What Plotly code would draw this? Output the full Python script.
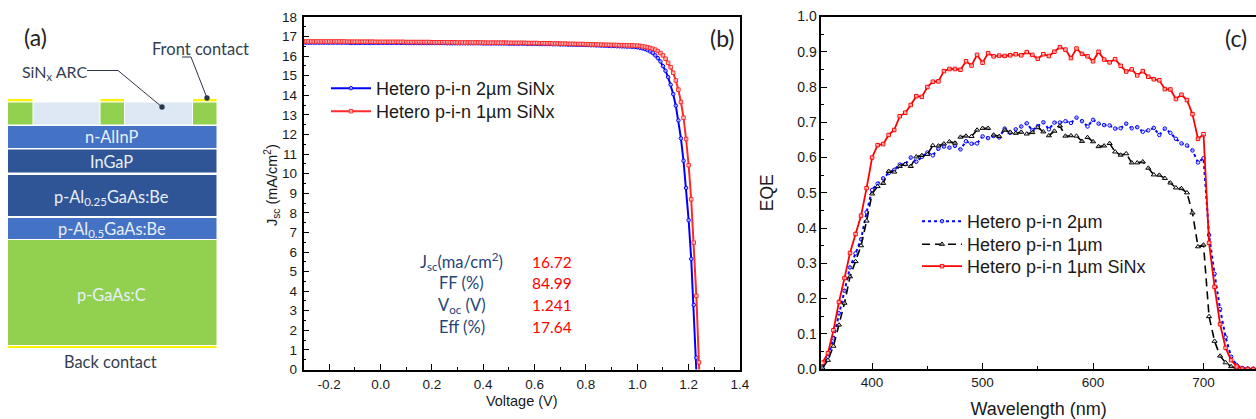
import plotly.graph_objects as go

# ---------- panel (b) data ----------
voltage = [-0.30,-0.29,-0.28,-0.27,-0.26,-0.25,-0.24,-0.23,-0.22,-0.21,
 -0.20,-0.19,-0.18,-0.17,-0.16,-0.15,-0.14,-0.13,-0.12,-0.11,
 -0.10,-0.09,-0.08,-0.07,-0.06,-0.05,-0.04,-0.03,-0.02,-0.01,
 0.00,0.01,0.02,0.03,0.04,0.05,0.06,0.07,0.08,0.09,
 0.10,0.11,0.12,0.13,0.14,0.15,0.16,0.17,0.18,0.19,
 0.20,0.21,0.22,0.23,0.24,0.25,0.26,0.27,0.28,0.29,
 0.30,0.31,0.32,0.33,0.34,0.35,0.36,0.37,0.38,0.39,
 0.40,0.41,0.42,0.43,0.44,0.45,0.46,0.47,0.48,0.49,
 0.50,0.51,0.52,0.53,0.54,0.55,0.56,0.57,0.58,0.59,
 0.60,0.61,0.62,0.63,0.64,0.65,0.66,0.67,0.68,0.69,
 0.70,0.71,0.72,0.73,0.74,0.75,0.76,0.77,0.78,0.79,
 0.80,0.81,0.82,0.83,0.84,0.85,0.86,0.87,0.88,0.89,
 0.90,0.91,0.92,0.93,0.94,0.95,0.96,0.97,0.98,0.99,
 1.00,1.01,1.02,1.03,1.04,1.05,1.06,1.07,1.08,1.09,
 1.10,1.11,1.12,1.13,1.14,1.15,1.16,1.17,1.18,1.19,
 1.20,1.21,1.22,1.23,1.24,1.25]

jsc_2um = [16.69,16.69,16.69,16.69,16.69,16.69,16.69,16.69,16.69,16.69,
 16.69,16.69,16.69,16.69,16.69,16.69,16.69,16.69,16.68,16.68,
 16.68,16.68,16.68,16.68,16.68,16.68,16.68,16.68,16.68,16.68,
 16.68,16.68,16.68,16.68,16.68,16.68,16.68,16.68,16.68,16.68,
 16.67,16.67,16.67,16.67,16.67,16.67,16.67,16.67,16.67,16.67,
 16.67,16.67,16.67,16.67,16.67,16.67,16.66,16.66,16.66,16.66,
 16.66,16.66,16.66,16.66,16.66,16.66,16.66,16.66,16.66,16.66,
 16.65,16.65,16.65,16.65,16.65,16.65,16.65,16.65,16.65,16.65,
 16.64,16.64,16.64,16.64,16.64,16.64,16.64,16.63,16.63,16.63,
 16.63,16.63,16.62,16.62,16.62,16.62,16.62,16.61,16.61,16.61,
 16.60,16.60,16.60,16.59,16.59,16.59,16.58,16.58,16.58,16.58,
 16.57,16.57,16.56,16.56,16.55,16.55,16.54,16.54,16.53,16.53,
 16.52,16.52,16.51,16.51,16.50,16.50,16.49,16.49,16.48,16.47,
 16.46,16.43,16.40,16.36,16.31,16.24,16.16,16.04,15.90,15.73,
 15.49,15.25,14.93,14.54,14.06,13.47,12.72,11.80,10.66,9.27,
 7.62,5.65,3.30,0.60,-2.40,-5.80]

jsc_1um = [16.75,16.75,16.75,16.75,16.75,16.75,16.75,16.75,16.75,16.75,
 16.75,16.75,16.75,16.75,16.75,16.75,16.75,16.74,16.74,16.74,
 16.74,16.74,16.74,16.74,16.74,16.74,16.74,16.74,16.73,16.73,
 16.73,16.73,16.73,16.73,16.73,16.73,16.73,16.73,16.73,16.73,
 16.72,16.72,16.72,16.72,16.72,16.72,16.72,16.72,16.72,16.72,
 16.71,16.71,16.71,16.71,16.71,16.71,16.71,16.71,16.71,16.71,
 16.70,16.70,16.70,16.70,16.70,16.70,16.70,16.70,16.70,16.70,
 16.69,16.69,16.69,16.69,16.69,16.69,16.69,16.69,16.69,16.69,
 16.68,16.68,16.68,16.68,16.68,16.68,16.68,16.67,16.67,16.67,
 16.67,16.67,16.66,16.66,16.66,16.66,16.66,16.65,16.65,16.65,
 16.64,16.64,16.64,16.63,16.63,16.63,16.62,16.62,16.62,16.62,
 16.61,16.61,16.60,16.60,16.60,16.59,16.59,16.58,16.58,16.58,
 16.57,16.57,16.57,16.56,16.56,16.56,16.55,16.55,16.55,16.54,
 16.54,16.52,16.50,16.48,16.45,16.42,16.38,16.33,16.26,16.16,
 16.04,15.87,15.66,15.44,15.15,14.76,14.29,13.66,12.86,11.77,
 10.43,8.69,6.48,3.76,0.36,-3.00]

voltage_ticks = [-0.2, 0.0, 0.2, 0.4, 0.6, 0.8, 1.0, 1.2, 1.4]
voltage_tick_labels = ["-0.2", "0.0", "0.2", "0.4", "0.6", "0.8", "1.0", "1.2", "1.4"]

# ---------- panel (c) data ----------
wavelength = [355,360,365,370,375,380,385,390,395,400,405,410,415,420,425,430,435,440,445,450,
 455,460,465,470,475,480,485,490,495,500,505,510,515,520,525,530,535,540,545,550,
 555,560,565,570,575,580,585,590,595,600,605,610,615,620,625,630,635,640,645,650,
 655,660,665,670,675,680,685,690,695,700,705,710,715,720,725,730,735,740,745,750]

eqe_2um = [0.007,0.035,0.087,0.158,0.222,0.288,0.328,0.368,0.445,0.508,0.526,0.541,0.556,0.565,0.580,0.581,0.600,0.588,0.602,0.614,
 0.606,0.625,0.631,0.628,0.633,0.623,0.646,0.639,0.640,0.660,0.655,0.661,0.657,0.682,0.670,0.680,0.688,0.697,0.677,0.689,
 0.700,0.680,0.699,0.699,0.703,0.698,0.713,0.703,0.688,0.707,0.696,0.692,0.691,0.682,0.683,0.696,0.683,0.686,0.673,0.677,
 0.684,0.664,0.682,0.670,0.653,0.640,0.634,0.620,0.586,0.598,0.380,0.270,0.170,0.090,0.035,0.011,0.003,0.001,0.000,0.000]

eqe_1um = [0.003,0.025,0.065,0.125,0.187,0.262,0.305,0.350,0.420,0.497,0.518,0.527,0.561,0.559,0.575,0.581,0.575,0.602,0.606,0.609,
 0.634,0.633,0.639,0.645,0.641,0.658,0.661,0.660,0.678,0.683,0.683,0.664,0.660,0.678,0.672,0.669,0.672,0.667,0.671,0.685,
 0.673,0.662,0.675,0.690,0.661,0.662,0.661,0.646,0.657,0.645,0.631,0.633,0.640,0.616,0.607,0.611,0.585,0.585,0.588,0.570,
 0.551,0.550,0.541,0.528,0.514,0.512,0.500,0.443,0.347,0.352,0.149,0.079,0.037,0.018,0.007,0.001,0.000,0.000,0.000,0.000]

eqe_1um_sinx = [0.018,0.045,0.110,0.190,0.258,0.329,0.383,0.435,0.513,0.600,0.635,0.638,0.664,0.678,0.717,0.727,0.749,0.774,0.772,0.800,
 0.815,0.816,0.845,0.851,0.851,0.849,0.873,0.861,0.891,0.869,0.896,0.887,0.889,0.888,0.890,0.893,0.890,0.899,0.891,0.880,
 0.893,0.888,0.900,0.913,0.906,0.882,0.909,0.894,0.887,0.873,0.900,0.878,0.870,0.879,0.860,0.844,0.850,0.833,0.845,0.829,
 0.822,0.819,0.794,0.793,0.766,0.778,0.763,0.723,0.653,0.666,0.358,0.233,0.127,0.060,0.025,0.007,0.001,0.000,0.000,0.000]

# ---------- text content ----------
stack_labels = ["n-AlInP", "InGaP", "p-Al<sub>0.25</sub>GaAs:Be", "p-Al<sub>0.5</sub>GaAs:Be", "p-GaAs:C"]
table_names = ["J<sub>sc</sub>(ma/cm<sup>2</sup>)", "FF (%)", "V<sub>oc</sub> (V)", "Eff (%)"]
table_values = ["16.72", "84.99", "1.241", "17.64"]

W, H = 1256, 419
px = lambda x: x / W
py = lambda y: 1 - y / H
ARIAL = "Liberation Sans"
CAL = "Lato"
INK = "#333F50"
TICK = "#1a1a1a"

fig = go.Figure()

def add(x, y, name, color, sym, axes, legend, dash="solid", width=2, size=3.5):
    fig.add_trace(go.Scatter(
        x=x, y=y, name=name, mode="lines+markers", xaxis=axes[0], yaxis=axes[1], legend=legend,
        line=dict(color=color, width=width, dash=dash),
        marker=dict(symbol=sym, size=size, color="rgba(255,255,255,0.6)", line=dict(color=color, width=1)),
    ))

add(voltage, jsc_2um, "Hetero p-i-n 2µm SiNx", "#0000ff", "circle", ("x", "y"), "legend")
add(voltage, jsc_1um, "Hetero p-i-n 1µm SiNx", "#ff2a2a", "square", ("x", "y"), "legend2")
add(wavelength, eqe_2um, "Hetero p-i-n 2µm", "#0000ff", "circle", ("x2", "y2"), "legend3", dash="3px,3px")
add(wavelength, eqe_1um, "Hetero p-i-n 1µm", "#000000", "triangle-up", ("x2", "y2"), "legend4", dash="8px,5px", width=1.6, size=4.5)
add(wavelength, eqe_1um_sinx, "Hetero p-i-n 1µm SiNx", "#ff0000", "square", ("x2", "y2"), "legend5", width=1.8)

shapes = []
def rect(x0, y0, x1, y1, color):
    shapes.append(dict(type="rect", xref="paper", yref="paper", x0=px(x0), x1=px(x1), y0=py(y0), y1=py(y1),
                       fillcolor=color, line=dict(width=0), layer="below"))

GREEN, LIGHT, MID, DARK, YEL = "#92D050", "#DEE8F4", "#4472C4", "#2F5597", "#FFF200"
for a, b in [(8, 32.5), (100.5, 124), (193, 216.5)]:
    rect(a, 99, b, 101.3, YEL)
    rect(a, 102.5, b, 124.5, GREEN)
rect(33.5, 102.5, 99.5, 124.5, LIGHT)
rect(125, 102.5, 192, 124.5, LIGHT)
rect(8, 126, 216.5, 148, MID)
rect(8, 149.5, 216.5, 172.5, DARK)
rect(8, 175, 216.5, 216, DARK)
rect(8, 218, 216.5, 239, MID)
rect(8, 240, 216.5, 345, GREEN)
rect(8, 346, 216.5, 348, YEL)

def leader(points):
    path = "M " + " L ".join(f"{px(a):.5f} {py(b):.5f}" for a, b in points)
    shapes.append(dict(type="path", xref="paper", yref="paper", path=path, line=dict(color="#2B3648", width=1)))
leader([(87, 70.5), (118, 70.5), (162, 107)])
leader([(182, 57), (191, 57), (207, 98)])
for cx, cy in [(162, 107), (207, 98)]:
    shapes.append(dict(type="circle", xref="paper", yref="paper", x0=px(cx-2.7), x1=px(cx+2.7),
                       y0=py(cy+2.7), y1=py(cy-2.7), fillcolor="#2B3648", line=dict(width=0)))

ann = []
def text(x, y, s, size, color=INK, family=CAL, **kw):
    ann.append(dict(x=px(x), y=py(y), xref="paper", yref="paper", text=s, showarrow=False,
                    font=dict(size=size, color=color, family=family), xanchor="center", yanchor="middle", **kw))

text(35.7, 37, "(a)", 23, color="#222222")
text(200, 48.5, "Front contact", 16.5)
text(54, 72, "SiN<sub>x</sub> ARC", 16)
for s, yc in zip(stack_labels, [136.7, 161.7, 197, 229, 294]):
    text(112, yc, s, 16.4, color="#E9EFF9")
text(111, 361.5, "Back contact", 16.4)
for s, yc in zip(table_names, [261.7, 283, 305, 327]):
    text(462, yc, s, 16.5, color="#264478")
for s, yc in zip(table_values, [261.7, 283, 305, 327]):
    text(551.7, yc, s, 15.5, color="#FF0000")
text(722, 38, "(b)", 23, color="#222222")
text(1236, 38, "(c)", 23, color="#222222")
text(272, 185, "J<sub>sc</sub> (mA/cm<sup>2</sup>)", 14.5, color=TICK, family=ARIAL, textangle=-90)

MINOR = dict(ticks="inside", ticklen=3, tickcolor="#000000", tickwidth=1.1)
def axis(**kw):
    base = dict(showgrid=False, zeroline=False, showline=True, linecolor="#000000", linewidth=1.5,
                ticks="inside", ticklen=6, tickwidth=1.3, tickcolor="#000000", automargin=False,
                tickfont=dict(family=ARIAL, size=13.5, color=TICK))
    base.update(kw)
    return base

def legend_at(x, y):
    return dict(x=px(x), y=py(y), xanchor="left", yanchor="top", bgcolor="rgba(0,0,0,0)", itemwidth=40,
                font=dict(family=ARIAL, size=18, color=TICK), tracegroupgap=0)

fig.update_layout(
    width=W, height=H, autosize=False, margin=dict(l=0, r=0, t=0, b=0, autoexpand=False),
    paper_bgcolor="white", plot_bgcolor="white",
    shapes=shapes, annotations=ann,
    xaxis=axis(domain=[px(303.5), px(740)], range=[-0.3, 1.4], tickmode="array", tickvals=voltage_ticks,
               ticktext=voltage_tick_labels, mirror=True, ticklabelstandoff=2,
               minor=dict(dtick=0.1, **MINOR),
               anchor="y", title=dict(text="Voltage (V)", font=dict(family=ARIAL, size=14.5, color=TICK), standoff=4)),
    yaxis=axis(domain=[py(369.5), py(17)], range=[0, 18], dtick=1, mirror=True, ticklabelstandoff=2,
               minor=dict(dtick=0.5, **MINOR), anchor="x"),
    xaxis2=axis(domain=[px(821.3), 1], range=[354, 747.5], dtick=100, mirror=True,
                minor=dict(dtick=50, **MINOR),
                anchor="y2", title=dict(text="Wavelength (nm)", font=dict(family=ARIAL, size=18, color=TICK), standoff=15)),
    yaxis2=axis(domain=[py(369), py(16.5)], range=[0, 1], dtick=0.1, tickformat=".1f",
                tickfont=dict(family=ARIAL, size=14, color=TICK),
                minor=dict(dtick=0.05, **MINOR),
                anchor="x2", title=dict(text="EQE", font=dict(family=ARIAL, size=17.5, color=TICK), standoff=19)),
    legend=legend_at(326, 70),
    legend2=legend_at(326, 93),
    legend3=legend_at(917, 203),
    legend4=legend_at(917, 226),
    legend5=legend_at(917, 248),
    showlegend=True,
)

fig.write_html("out.html", config={"displayModeBar": False},
               post_script="document.body.style.margin='0';document.body.style.overflow='hidden';")
